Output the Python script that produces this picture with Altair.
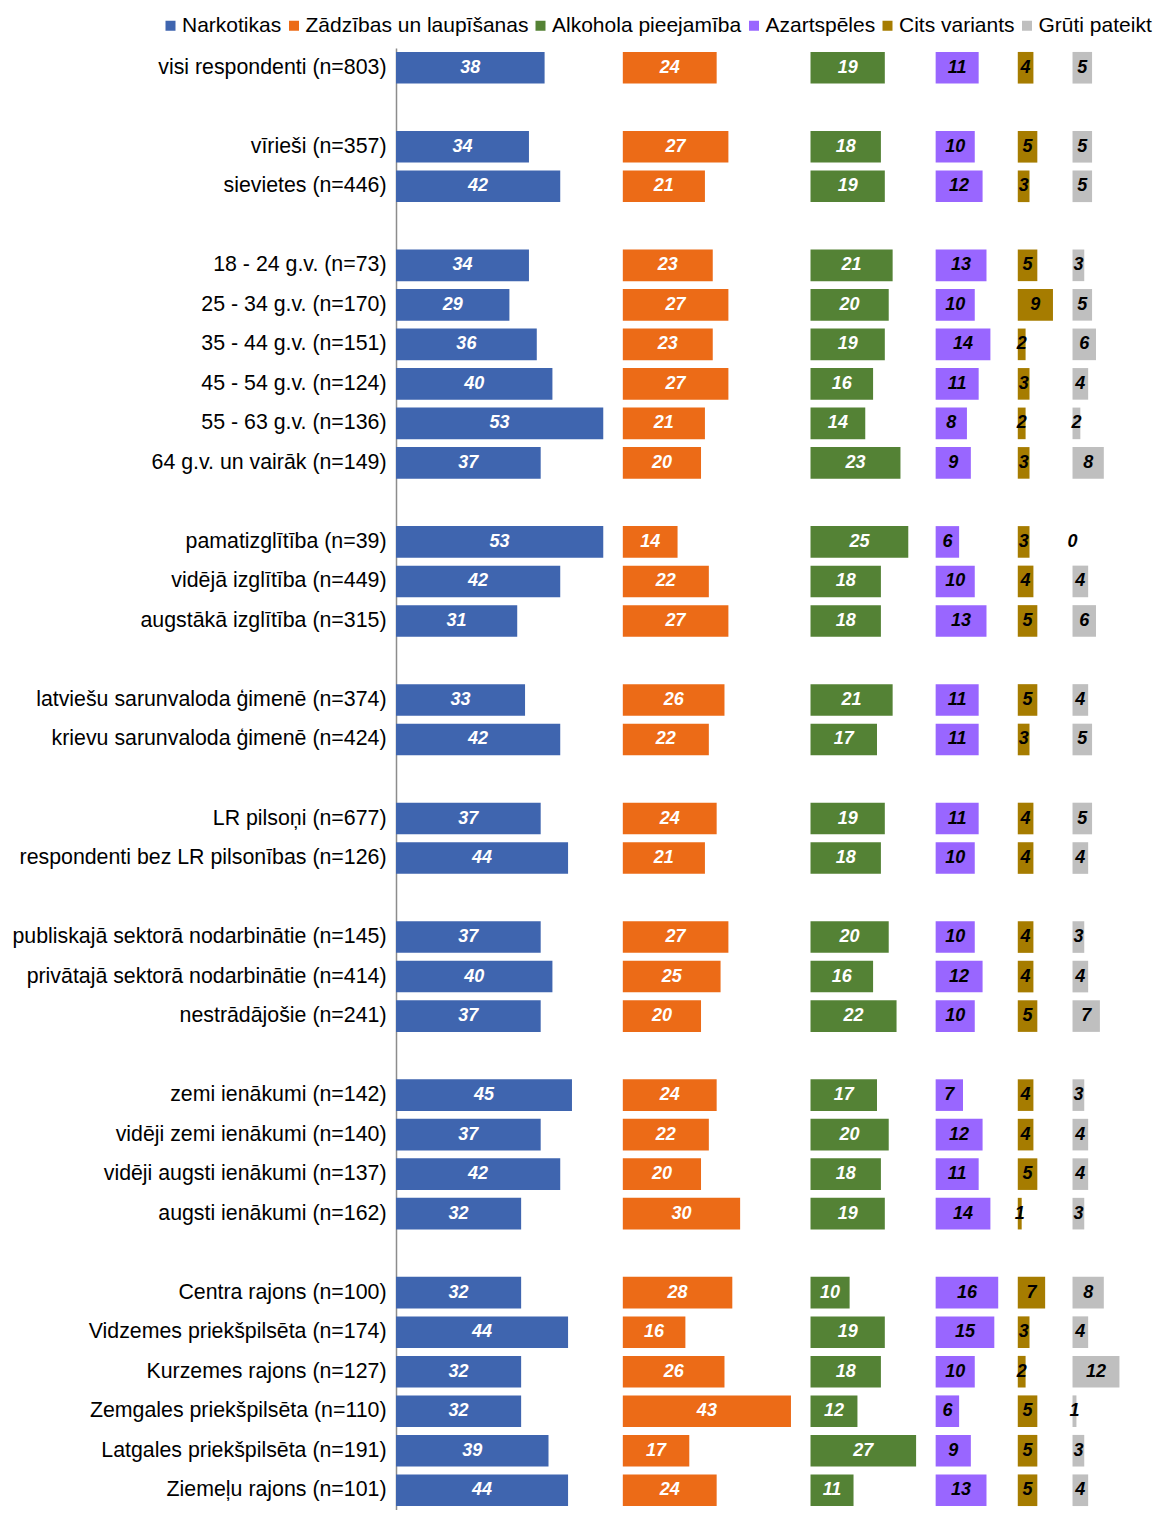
import altair as alt
import pandas as pd

series = ["Narkotikas", "Zādzības un laupīšanas", "Alkohola pieejamība",
          "Azartspēles", "Cits variants", "Grūti pateikt"]
colors = ["#3F65AF", "#EC6B17", "#548235", "#9966FF", "#A67C00", "#BFBFBF"]

categories = [
    "visi respondenti (n=803)",
    "vīrieši (n=357)", "sievietes (n=446)",
    "18 - 24 g.v. (n=73)", "25 - 34 g.v. (n=170)", "35 - 44 g.v. (n=151)",
    "45 - 54 g.v. (n=124)", "55 - 63 g.v. (n=136)", "64 g.v. un vairāk (n=149)",
    "pamatizglītība (n=39)", "vidējā izglītība (n=449)", "augstākā izglītība (n=315)",
    "latviešu sarunvaloda ģimenē (n=374)", "krievu sarunvaloda ģimenē (n=424)",
    "LR pilsoņi (n=677)", "respondenti bez LR pilsonības (n=126)",
    "publiskajā sektorā nodarbinātie (n=145)", "privātajā sektorā nodarbinātie (n=414)",
    "nestrādājošie (n=241)",
    "zemi ienākumi (n=142)", "vidēji zemi ienākumi (n=140)",
    "vidēji augsti ienākumi (n=137)", "augsti ienākumi (n=162)",
    "Centra rajons (n=100)", "Vidzemes priekšpilsēta (n=174)", "Kurzemes rajons (n=127)",
    "Zemgales priekšpilsēta (n=110)", "Latgales priekšpilsēta (n=191)", "Ziemeļu rajons (n=101)",
]
group_sizes = [1, 2, 6, 3, 2, 2, 3, 4, 6]

narkotikas = [38, 34, 42, 34, 29, 36, 40, 53, 37, 53, 42, 31, 33, 42, 37, 44, 37, 40, 37,
              45, 37, 42, 32, 32, 44, 32, 32, 39, 44]
zadzibas = [24, 27, 21, 23, 27, 23, 27, 21, 20, 14, 22, 27, 26, 22, 24, 21, 27, 25, 20,
            24, 22, 20, 30, 28, 16, 26, 43, 17, 24]
alkohols = [19, 18, 19, 21, 20, 19, 16, 14, 23, 25, 18, 18, 21, 17, 19, 18, 20, 16, 22,
            17, 20, 18, 19, 10, 19, 18, 12, 27, 11]
azartspeles = [11, 10, 12, 13, 10, 14, 11, 8, 9, 6, 10, 13, 11, 11, 11, 10, 10, 12, 10,
               7, 12, 11, 14, 16, 15, 10, 6, 9, 13]
cits = [4, 5, 3, 5, 9, 2, 3, 2, 3, 3, 4, 5, 5, 3, 4, 4, 4, 4, 5,
        4, 4, 5, 1, 7, 3, 2, 5, 5, 5]
gruti = [5, 5, 5, 3, 5, 6, 4, 2, 8, 0, 4, 6, 4, 5, 5, 4, 3, 4, 7,
         3, 4, 4, 3, 8, 4, 12, 1, 3, 4]

values = [narkotikas, zadzibas, alkohols, azartspeles, cits, gruti]

# row order with blank separator rows between groups
rows = []
idx = 0
for g, size in enumerate(group_sizes):
    if g > 0:
        rows.append(" " * g)
    rows.extend(categories[idx:idx + size])
    idx += size

# each series starts after the previous series' maximum plus a gap
GAP = 5
offsets = []
acc = 0
for vals in values:
    offsets.append(acc)
    acc += max(vals) + GAP

recs = []
for s, off, vals in zip(series, offsets, values):
    for c, v in zip(categories, vals):
        recs.append({"cat": c, "series": s, "value": v,
                     "start": off, "end": off + v, "mid": off + v / 2})
df = pd.DataFrame(recs)

FONT = "Liberation Sans"
FS = 21.33

y_scale = alt.Scale(domain=rows, paddingInner=0.2, paddingOuter=0.1)
y_enc = alt.Y("cat:N", scale=y_scale,
              axis=alt.Axis(title=None, ticks=False, grid=False, domain=True,
                            domainColor="#8C8C8C", domainWidth=1.5,
                            labelFontSize=FS, labelColor="#000000", labelFont=FONT,
                            labelPadding=10, labelLimit=600))
x_scale = alt.Scale(domain=[0, 190], nice=False, zero=True)

bars = alt.Chart(df).mark_bar().encode(
    x=alt.X("start:Q", scale=x_scale, axis=None),
    x2="end:Q",
    y=y_enc,
    color=alt.Color("series:N", scale=alt.Scale(domain=series, range=colors),
                    legend=alt.Legend(title=None, orient="none", direction="horizontal",
                                      columns=6, legendX=-236, legendY=-33, padding=0,
                                      symbolType="square", symbolSize=100,
                                      symbolStrokeWidth=0, labelFontSize=21,
                                      labelFont=FONT, labelColor="#000000",
                                      labelOffset=1, columnPadding=1.5, labelLimit=400)),
)

labels = alt.Chart(df).mark_text(font=FONT, fontSize=18, fontWeight="bold",
                                 fontStyle="italic", align="center",
                                 baseline="middle").encode(
    x=alt.X("mid:Q", scale=x_scale, axis=None),
    y=alt.Y("cat:N", scale=y_scale),
    text=alt.Text("value:Q"),
    color=alt.condition(alt.FieldOneOfPredicate(field="series", oneOf=series[:3]),
                        alt.value("#FFFFFF"), alt.value("#000000")),
)

chart = alt.layer(bars, labels).properties(
    width=743, height=1462,
    autosize=alt.AutoSizeParams(type="none"),
    padding={"left": 388, "top": 40, "right": 14, "bottom": 0},
).configure_view(stroke=None)

chart.save("out.html", embed_options={"renderer": "svg", "actions": False})
